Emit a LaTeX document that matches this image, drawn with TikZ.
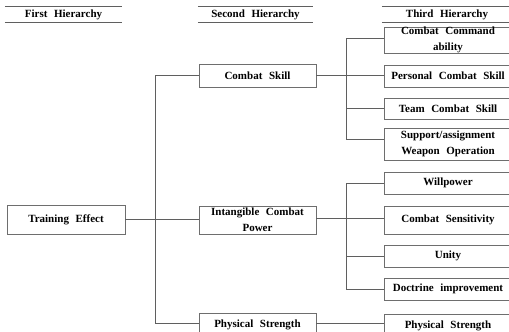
\documentclass[tikz,border=0pt]{standalone}
\usepackage{fontspec}
\setmainfont[WordSpace=2.4]{Liberation Serif}
\definecolor{linegray}{RGB}{95,95,95}
\definecolor{boxgray}{RGB}{110,110,110}
\begin{document}
\begin{tikzpicture}[x=1pt,y=-1pt]
\tikzset{ box/.style={draw=boxgray, line width=0.8pt, fill=white, inner sep=0pt, align=center, font=\bfseries\fontsize{11}{16}\selectfont},
          head/.style={inner sep=0pt, font=\bfseries\fontsize{11}{16}\selectfont},
          link/.style={draw=linegray, line width=0.8pt} }

\useasboundingbox (0,0) rectangle (509,332);
\clip (0,0) rectangle (509,332);

%\draw [lightgray, dashed](0,0) grid[step=20] (509,332);

\node [head, minimum width=117pt, minimum height=15pt] (H1) at (63.5,14.5)  {First Hierarchy};
\node [head, minimum width=115pt, minimum height=15pt] (H2) at (255.5,14.5) {Second Hierarchy};
\node [head, minimum width=130pt, minimum height=15pt] (H3) at (447,14.5)   {Third Hierarchy};

\foreach \h in {H1,H2,H3}
{
\draw [link] (\h.north west) -- (\h.north east);
\draw [link] (\h.south west) -- (\h.south east);
}

\node [box, minimum width=118pt, minimum height=29pt] (TE) at (66,219.5) {Training Effect};

\node [box, minimum width=117pt, minimum height=23pt] (CS) at (257.5,75.5) {Combat Skill};
\node [box, minimum width=117pt, minimum height=28pt] (IC) at (257.5,220)  {Intangible Combat\\Power};
\node [box, minimum width=117pt, minimum height=24pt] (PS) at (257.5,325)  {Physical Strength};

\node [box, minimum width=128pt, minimum height=26pt] (CCA) at (448,40)    {Combat Command\\ability};
\node [box, minimum width=128pt, minimum height=22pt] (PCS) at (448,76)    {Personal Combat Skill};
\node [box, minimum width=128pt, minimum height=21pt] (TCS) at (448,108.5) {Team Combat Skill};
\node [box, minimum width=128pt, minimum height=32pt] (SAW) at (448,144)   {Support/assignment\\Weapon Operation};

\node [box, minimum width=128pt, minimum height=22pt] (WP)  at (448,183)   {Willpower};
\node [box, minimum width=128pt, minimum height=28pt] (CSe) at (448,220)   {Combat Sensitivity};
\node [box, minimum width=128pt, minimum height=22pt] (UN)  at (448,256)   {Unity};
\node [box, minimum width=128pt, minimum height=22pt] (DI)  at (448,289)   {Doctrine improvement};
\node [box, minimum width=128pt, minimum height=24pt] (PS3) at (448,326)   {Physical Strength};

\coordinate (T) at (155,0);
\coordinate (B) at (346,0);

% first to second
\draw [link] (CS.west) -- (CS.west -| T) -- ([yshift=2pt]PS.west -| T) -- ([yshift=2pt]PS.west);
\draw [link] ([yshift=0.5pt]TE.east) -- ([yshift=0.5pt]TE.east -| IC.west);

% second to third
\draw [link] (CS.east) -- (CS.east -| PCS.west);
\draw [link] ([yshift=2pt]CCA.west) -- ([yshift=2pt]CCA.west -| B) -- ([yshift=5pt]SAW.west -| B) -- ([yshift=5pt]SAW.west);
\draw [link] (TCS.west) -- (TCS.west -| B);

\draw [link] ([yshift=2pt]IC.east) -- ([yshift=2pt]IC.east -| CSe.west);
\draw [link] (WP.west) -- (WP.west -| B) -- (DI.west -| B) -- (DI.west);
\draw [link] (UN.west) -- (UN.west -| B);

\draw [link] ([yshift=2pt]PS.east) -- ([yshift=2pt]PS.east -| PS3.west);

\end{tikzpicture}
\end{document}
